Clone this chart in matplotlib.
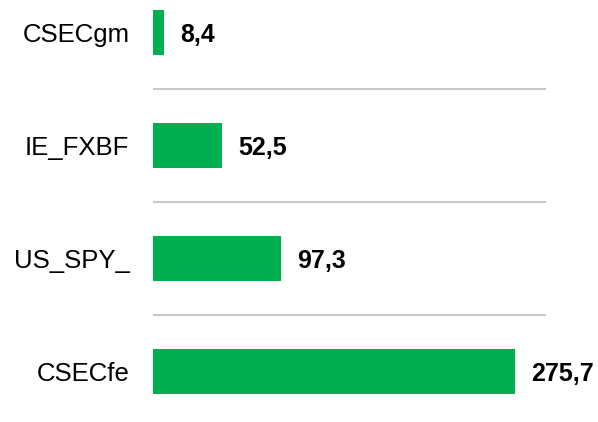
import matplotlib.pyplot as plt

# datos del grafico
categorias = ["CSECgm", "IE_FXBF", "US_SPY_", "CSECfe"]
valores = [8.4, 52.5, 97.3, 275.7]

plt.rcParams['font.family'] = ['Liberation Sans', 'DejaVu Sans']

fig = plt.figure(figsize=(5.98, 4.22), dpi=100)
ax = fig.add_axes([153 / 598, 0, 393 / 598, 1])

pos = list(range(len(categorias)))
ax.barh(pos, valores, height=0.4, color="#00B050")

# lineas separadoras entre categorias
for i in range(len(categorias) - 1):
    ax.axhline(i + 0.5, color="#C8C8C8", lw=1.5)

for p, v in zip(pos, valores):
    ax.annotate(f"{v:.1f}".replace(".", ","), (v, p), xytext=(12, 0),
                textcoords="offset points", va="center_baseline", ha="left",
                fontsize=18, fontweight="bold")

ax.set_xlim(0, 299.5)
ax.set_ylim(3.447, -0.2876)
ax.set_yticks(pos)
ax.set_yticklabels(categorias, fontsize=18.5)
ax.tick_params(axis="y", length=0, pad=17)
ax.set_xticks([])
for s in ax.spines.values():
    s.set_visible(False)

fig.savefig("out.png", dpi=100)
